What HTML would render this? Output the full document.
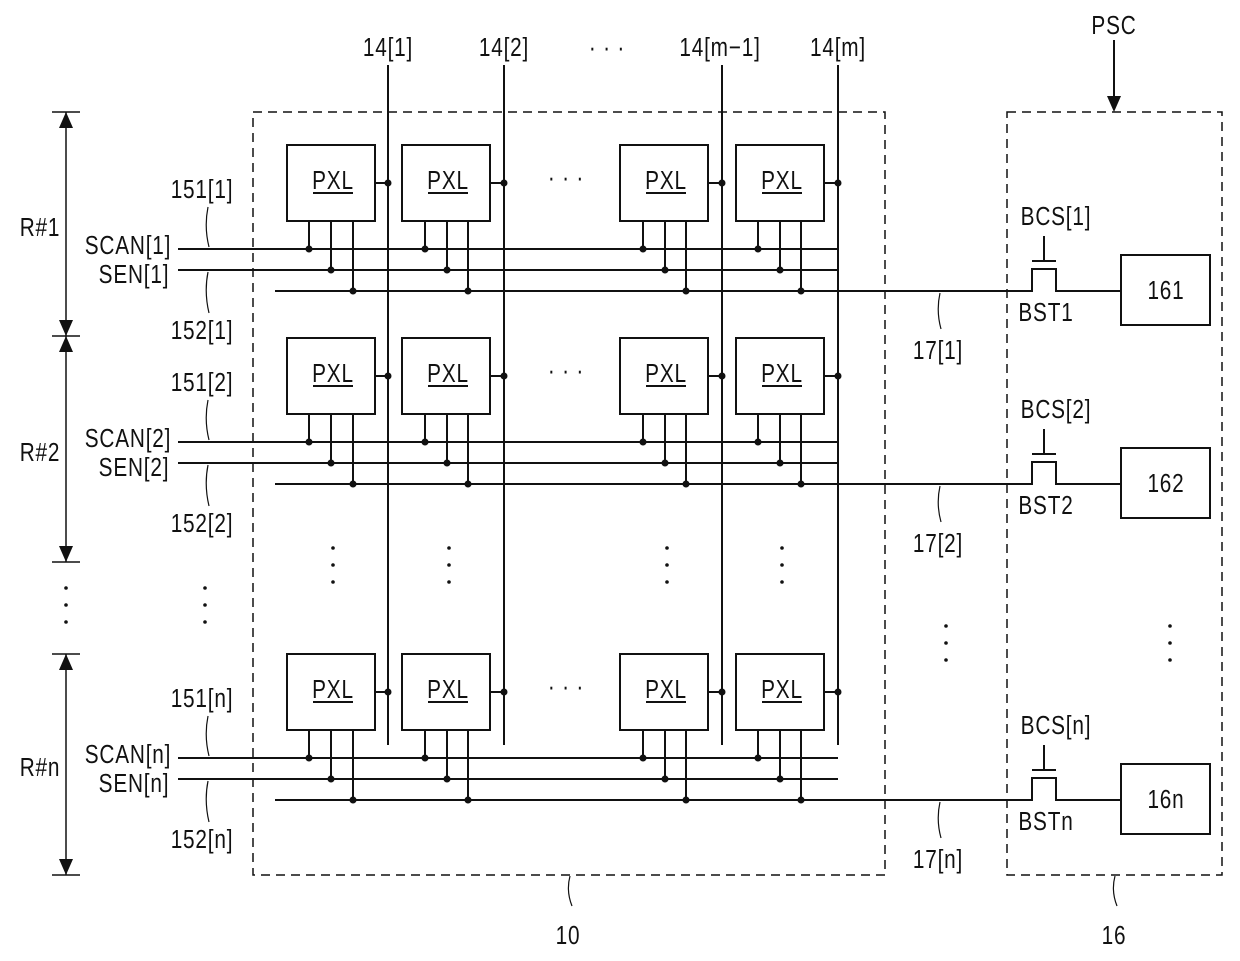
<!DOCTYPE html>
<html><head><meta charset="utf-8"><style>
html,body{margin:0;padding:0;background:#fff}
svg{display:block}
text{font-family:"Liberation Sans",sans-serif;font-size:26px;fill:#111;transform-box:fill-box;transform-origin:center;transform:scaleX(.8);letter-spacing:1px}
</style></head><body>
<svg width="1240" height="961" viewBox="0 0 1240 961" xmlns="http://www.w3.org/2000/svg">
<g stroke="#111" stroke-width="2" fill="none">
<rect x="253" y="112" width="632" height="763" stroke-dasharray="9,6" stroke-width="1.5"/>
<rect x="1007" y="112" width="215" height="763" stroke-dasharray="9,6" stroke-width="1.5"/>
<line x1="388" y1="65" x2="388" y2="745"/>
<line x1="504" y1="65" x2="504" y2="745"/>
<line x1="722" y1="65" x2="722" y2="745"/>
<line x1="838" y1="65" x2="838" y2="745"/>
<line x1="1114" y1="40" x2="1114" y2="100"/>
<line x1="66" y1="112" x2="66" y2="562" stroke-width="1.5"/>
<line x1="66" y1="654" x2="66" y2="875" stroke-width="1.5"/>
<line x1="52" y1="112" x2="80" y2="112" stroke-width="1.5"/>
<line x1="52" y1="336" x2="80" y2="336" stroke-width="1.5"/>
<line x1="52" y1="562" x2="80" y2="562" stroke-width="1.5"/>
<line x1="52" y1="654" x2="80" y2="654" stroke-width="1.5"/>
<line x1="52" y1="875" x2="80" y2="875" stroke-width="1.5"/>
<path d="M570,876 q-4,15 2,30" stroke-width="1.2"/>
<path d="M1115,876 q-4,15 2,30" stroke-width="1.2"/>
</g>
<g fill="#111">
<polygon points="1107,96 1121,96 1114,112"/>
<polygon points="59,128 73,128 66,112"/><polygon points="59,320 73,320 66,336"/>
<polygon points="59,352 73,352 66,336"/><polygon points="59,546 73,546 66,562"/>
<polygon points="59,670 73,670 66,654"/><polygon points="59,859 73,859 66,875"/>
<circle cx="66" cy="588" r="1.8"/><circle cx="66" cy="605" r="1.8"/><circle cx="66" cy="622" r="1.8"/>
<circle cx="205" cy="588" r="1.8"/><circle cx="205" cy="605" r="1.8"/><circle cx="205" cy="622" r="1.8"/>
<circle cx="333" cy="548" r="1.8"/><circle cx="333" cy="565" r="1.8"/><circle cx="333" cy="582" r="1.8"/>
<circle cx="449" cy="548" r="1.8"/><circle cx="449" cy="565" r="1.8"/><circle cx="449" cy="582" r="1.8"/>
<circle cx="667" cy="548" r="1.8"/><circle cx="667" cy="565" r="1.8"/><circle cx="667" cy="582" r="1.8"/>
<circle cx="782" cy="548" r="1.8"/><circle cx="782" cy="565" r="1.8"/><circle cx="782" cy="582" r="1.8"/>
<circle cx="946" cy="626" r="1.8"/><circle cx="946" cy="643" r="1.8"/><circle cx="946" cy="660" r="1.8"/>
<circle cx="1170" cy="626" r="1.8"/><circle cx="1170" cy="643" r="1.8"/><circle cx="1170" cy="660" r="1.8"/>
</g>
<text x="388" y="56" text-anchor="middle">14[1]</text>
<text x="504" y="56" text-anchor="middle">14[2]</text>
<text x="607" y="56" text-anchor="middle">· · ·</text>
<text x="720" y="56" text-anchor="middle">14[m−1]</text>
<text x="838" y="56" text-anchor="middle">14[m]</text>
<text x="1114" y="34" text-anchor="middle">PSC</text>
<text x="568" y="944" text-anchor="middle">10</text>
<text x="1114" y="944" text-anchor="middle">16</text>
<text x="40" y="236" text-anchor="middle">R#1</text>
<text x="40" y="461" text-anchor="middle">R#2</text>
<text x="40" y="776" text-anchor="middle">R#n</text>

<!-- ROW 1 -->
<g>
<g stroke="#111" stroke-width="2" fill="none">
<rect x="287" y="145" width="88" height="76"/><rect x="402" y="145" width="88" height="76"/>
<rect x="620" y="145" width="88" height="76"/><rect x="736" y="145" width="88" height="76"/>
<line x1="375" y1="183" x2="388" y2="183"/><line x1="490" y1="183" x2="504" y2="183"/>
<line x1="708" y1="183" x2="722" y2="183"/><line x1="824" y1="183" x2="838" y2="183"/>
<path d="M309,221V249M331,221V270M353,221V291M425,221V249M447,221V270M468,221V291M643,221V249M665,221V270M686,221V291M758,221V249M780,221V270M801,221V291"/>
<line x1="178" y1="249" x2="838" y2="249"/><line x1="178" y1="270" x2="838" y2="270"/>
<path d="M275,291H1032V269H1056V291H1121"/>
<line x1="1032" y1="261" x2="1056" y2="261"/><line x1="1044" y1="236" x2="1044" y2="261"/>
<rect x="1121" y="255" width="89" height="70"/>
<path d="M208,207q-4,20 1,40M208,272q-4,20 1,41M940,293q-4,18 1,36" stroke-width="1.2"/>
<path d="M313,193h40M428,193h40M646,193h40M762,193h40" stroke-width="2"/>
</g>
<g fill="#111">
<circle cx="388" cy="183" r="3.5"/><circle cx="504" cy="183" r="3.5"/><circle cx="722" cy="183" r="3.5"/><circle cx="838" cy="183" r="3.5"/>
<circle cx="309" cy="249" r="3.5"/><circle cx="331" cy="270" r="3.5"/><circle cx="353" cy="291" r="3.5"/>
<circle cx="425" cy="249" r="3.5"/><circle cx="447" cy="270" r="3.5"/><circle cx="468" cy="291" r="3.5"/>
<circle cx="643" cy="249" r="3.5"/><circle cx="665" cy="270" r="3.5"/><circle cx="686" cy="291" r="3.5"/>
<circle cx="758" cy="249" r="3.5"/><circle cx="780" cy="270" r="3.5"/><circle cx="801" cy="291" r="3.5"/>
</g>
<text x="333" y="189" text-anchor="middle">PXL</text><text x="448" y="189" text-anchor="middle">PXL</text>
<text x="666" y="189" text-anchor="middle">PXL</text><text x="782" y="189" text-anchor="middle">PXL</text>
<text x="566" y="186" text-anchor="middle">· · ·</text>
<text x="202" y="198" text-anchor="middle">151[1]</text>
<text x="128" y="254" text-anchor="middle">SCAN[1]</text>
<text x="134" y="283" text-anchor="middle">SEN[1]</text>
<text x="202" y="339" text-anchor="middle">152[1]</text>
<text x="938" y="359" text-anchor="middle">17[1]</text>
<text x="1056" y="225" text-anchor="middle">BCS[1]</text>
<text x="1046" y="321" text-anchor="middle">BST1</text>
<text x="1166" y="299" text-anchor="middle">161</text>
</g>

<!-- ROW 2 -->
<g transform="translate(0,193)">
<g stroke="#111" stroke-width="2" fill="none">
<rect x="287" y="145" width="88" height="76"/><rect x="402" y="145" width="88" height="76"/>
<rect x="620" y="145" width="88" height="76"/><rect x="736" y="145" width="88" height="76"/>
<line x1="375" y1="183" x2="388" y2="183"/><line x1="490" y1="183" x2="504" y2="183"/>
<line x1="708" y1="183" x2="722" y2="183"/><line x1="824" y1="183" x2="838" y2="183"/>
<path d="M309,221V249M331,221V270M353,221V291M425,221V249M447,221V270M468,221V291M643,221V249M665,221V270M686,221V291M758,221V249M780,221V270M801,221V291"/>
<line x1="178" y1="249" x2="838" y2="249"/><line x1="178" y1="270" x2="838" y2="270"/>
<path d="M275,291H1032V269H1056V291H1121"/>
<line x1="1032" y1="261" x2="1056" y2="261"/><line x1="1044" y1="236" x2="1044" y2="261"/>
<rect x="1121" y="255" width="89" height="70"/>
<path d="M208,207q-4,20 1,40M208,272q-4,20 1,41M940,293q-4,18 1,36" stroke-width="1.2"/>
<path d="M313,193h40M428,193h40M646,193h40M762,193h40" stroke-width="2"/>
</g>
<g fill="#111">
<circle cx="388" cy="183" r="3.5"/><circle cx="504" cy="183" r="3.5"/><circle cx="722" cy="183" r="3.5"/><circle cx="838" cy="183" r="3.5"/>
<circle cx="309" cy="249" r="3.5"/><circle cx="331" cy="270" r="3.5"/><circle cx="353" cy="291" r="3.5"/>
<circle cx="425" cy="249" r="3.5"/><circle cx="447" cy="270" r="3.5"/><circle cx="468" cy="291" r="3.5"/>
<circle cx="643" cy="249" r="3.5"/><circle cx="665" cy="270" r="3.5"/><circle cx="686" cy="291" r="3.5"/>
<circle cx="758" cy="249" r="3.5"/><circle cx="780" cy="270" r="3.5"/><circle cx="801" cy="291" r="3.5"/>
</g>
<text x="333" y="189" text-anchor="middle">PXL</text><text x="448" y="189" text-anchor="middle">PXL</text>
<text x="666" y="189" text-anchor="middle">PXL</text><text x="782" y="189" text-anchor="middle">PXL</text>
<text x="566" y="186" text-anchor="middle">· · ·</text>
<text x="202" y="198" text-anchor="middle">151[2]</text>
<text x="128" y="254" text-anchor="middle">SCAN[2]</text>
<text x="134" y="283" text-anchor="middle">SEN[2]</text>
<text x="202" y="339" text-anchor="middle">152[2]</text>
<text x="938" y="359" text-anchor="middle">17[2]</text>
<text x="1056" y="225" text-anchor="middle">BCS[2]</text>
<text x="1046" y="321" text-anchor="middle">BST2</text>
<text x="1166" y="299" text-anchor="middle">162</text>
</g>

<!-- ROW n -->
<g transform="translate(0,509)">
<g stroke="#111" stroke-width="2" fill="none">
<rect x="287" y="145" width="88" height="76"/><rect x="402" y="145" width="88" height="76"/>
<rect x="620" y="145" width="88" height="76"/><rect x="736" y="145" width="88" height="76"/>
<line x1="375" y1="183" x2="388" y2="183"/><line x1="490" y1="183" x2="504" y2="183"/>
<line x1="708" y1="183" x2="722" y2="183"/><line x1="824" y1="183" x2="838" y2="183"/>
<path d="M309,221V249M331,221V270M353,221V291M425,221V249M447,221V270M468,221V291M643,221V249M665,221V270M686,221V291M758,221V249M780,221V270M801,221V291"/>
<line x1="178" y1="249" x2="838" y2="249"/><line x1="178" y1="270" x2="838" y2="270"/>
<path d="M275,291H1032V269H1056V291H1121"/>
<line x1="1032" y1="261" x2="1056" y2="261"/><line x1="1044" y1="236" x2="1044" y2="261"/>
<rect x="1121" y="255" width="89" height="70"/>
<path d="M208,207q-4,20 1,40M208,272q-4,20 1,41M940,293q-4,18 1,36" stroke-width="1.2"/>
<path d="M313,193h40M428,193h40M646,193h40M762,193h40" stroke-width="2"/>
</g>
<g fill="#111">
<circle cx="388" cy="183" r="3.5"/><circle cx="504" cy="183" r="3.5"/><circle cx="722" cy="183" r="3.5"/><circle cx="838" cy="183" r="3.5"/>
<circle cx="309" cy="249" r="3.5"/><circle cx="331" cy="270" r="3.5"/><circle cx="353" cy="291" r="3.5"/>
<circle cx="425" cy="249" r="3.5"/><circle cx="447" cy="270" r="3.5"/><circle cx="468" cy="291" r="3.5"/>
<circle cx="643" cy="249" r="3.5"/><circle cx="665" cy="270" r="3.5"/><circle cx="686" cy="291" r="3.5"/>
<circle cx="758" cy="249" r="3.5"/><circle cx="780" cy="270" r="3.5"/><circle cx="801" cy="291" r="3.5"/>
</g>
<text x="333" y="189" text-anchor="middle">PXL</text><text x="448" y="189" text-anchor="middle">PXL</text>
<text x="666" y="189" text-anchor="middle">PXL</text><text x="782" y="189" text-anchor="middle">PXL</text>
<text x="566" y="186" text-anchor="middle">· · ·</text>
<text x="202" y="198" text-anchor="middle">151[n]</text>
<text x="128" y="254" text-anchor="middle">SCAN[n]</text>
<text x="134" y="283" text-anchor="middle">SEN[n]</text>
<text x="202" y="339" text-anchor="middle">152[n]</text>
<text x="938" y="359" text-anchor="middle">17[n]</text>
<text x="1056" y="225" text-anchor="middle">BCS[n]</text>
<text x="1046" y="321" text-anchor="middle">BSTn</text>
<text x="1166" y="299" text-anchor="middle">16n</text>
</g>
</svg>
</body></html>
